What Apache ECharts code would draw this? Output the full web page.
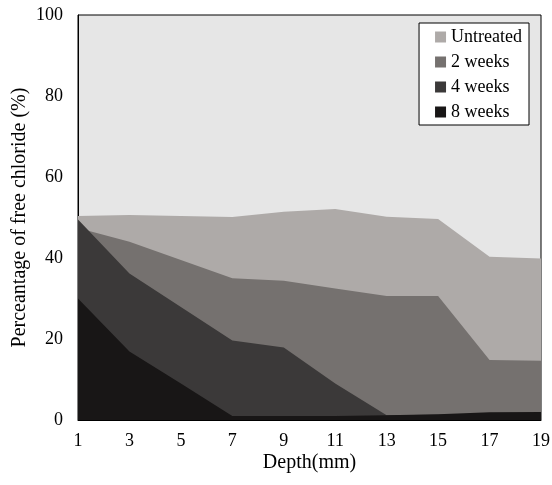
<!DOCTYPE html>
<html>
<head>
<meta charset="utf-8">
<script src="https://cdn.jsdelivr.net/npm/echarts@6/dist/echarts.min.js"></script>
<style>html,body{margin:0;padding:0;background:#fff}#c{width:552px;height:485px}</style>
</head>
<body>
<div id="c"></div>
<script>
const depths = ['1','3','5','7','9','11','13','15','17','19'];
const untreated = [50.4, 50.6, 50.4, 50.1, 51.4, 52.1, 50.2, 49.6, 40.3, 39.9];
const weeks2 = [47.4, 44.0, 39.5, 35.0, 34.4, 32.5, 30.6, 30.6, 14.8, 14.6];
const weeks4 = [49.5, 36.2, 27.9, 19.6, 17.9, 9.0, 1.2, 1.3, 1.5, 1.6];
const weeks8 = [30.0, 16.9, 9.0, 1.0, 1.0, 1.0, 1.2, 1.4, 1.9, 2.0];
const seriesNames = ['Untreated', '2 weeks', '4 weeks', '8 weeks'];
const seriesData = [untreated, weeks2, weeks4, weeks8];
const colors = ['#aeaaa8', '#75716f', '#3b3939', '#181616'];
const font = 'Liberation Serif';

const chart = echarts.init(document.getElementById('c'));
chart.setOption({
  animation: false,
  backgroundColor: '#fff',
  grid: {left: 78, top: 15, right: 11, bottom: 65, outerBoundsMode: 'none', containLabel: false, show: true, backgroundColor: '#e6e6e6', borderColor: '#000', borderWidth: 1},
  legend: {
    orient: 'vertical', right: 23, top: 23,
    backgroundColor: '#fff', borderColor: '#000', borderWidth: 1,
    padding: [5, 7, 4, 16],
    itemWidth: 11, itemHeight: 11, itemGap: 7,
    icon: 'rect',
    textStyle: {fontFamily: font, fontSize: 18, color: '#000', lineHeight: 18},
    data: seriesNames
  },
  xAxis: {
    type: 'category', data: depths, boundaryGap: false,
    axisLine: {show: true, lineStyle: {color: '#000', width: 1}},
    axisTick: {show: false},
    axisLabel: {fontFamily: font, fontSize: 18, color: '#000', margin: 12},
    name: 'Depth(mm)', nameLocation: 'middle', nameGap: 33, nameMoveOverlap: false,
    nameTextStyle: {fontFamily: font, fontSize: 20, color: '#000'},
    splitLine: {show: false}
  },
  yAxis: {
    type: 'value', min: 0, max: 100, interval: 20,
    axisLine: {show: true, lineStyle: {color: '#000', width: 1}},
    axisTick: {show: false},
    axisLabel: {fontFamily: font, fontSize: 18, color: '#000', margin: 15},
    splitLine: {show: false},
    name: 'Perceantage of free chloride (%)', nameLocation: 'middle', nameGap: 48, nameRotate: 90, nameMoveOverlap: false,
    nameTextStyle: {fontFamily: font, fontSize: 20, color: '#000'}
  },
  series: seriesNames.map((n, i) => ({
    name: n, type: 'line', data: seriesData[i],
    symbol: 'none', lineStyle: {width: 0, color: colors[i]},
    itemStyle: {color: colors[i]},
    areaStyle: {color: colors[i], opacity: 1}
  }))
});
</script>
</body>
</html>
